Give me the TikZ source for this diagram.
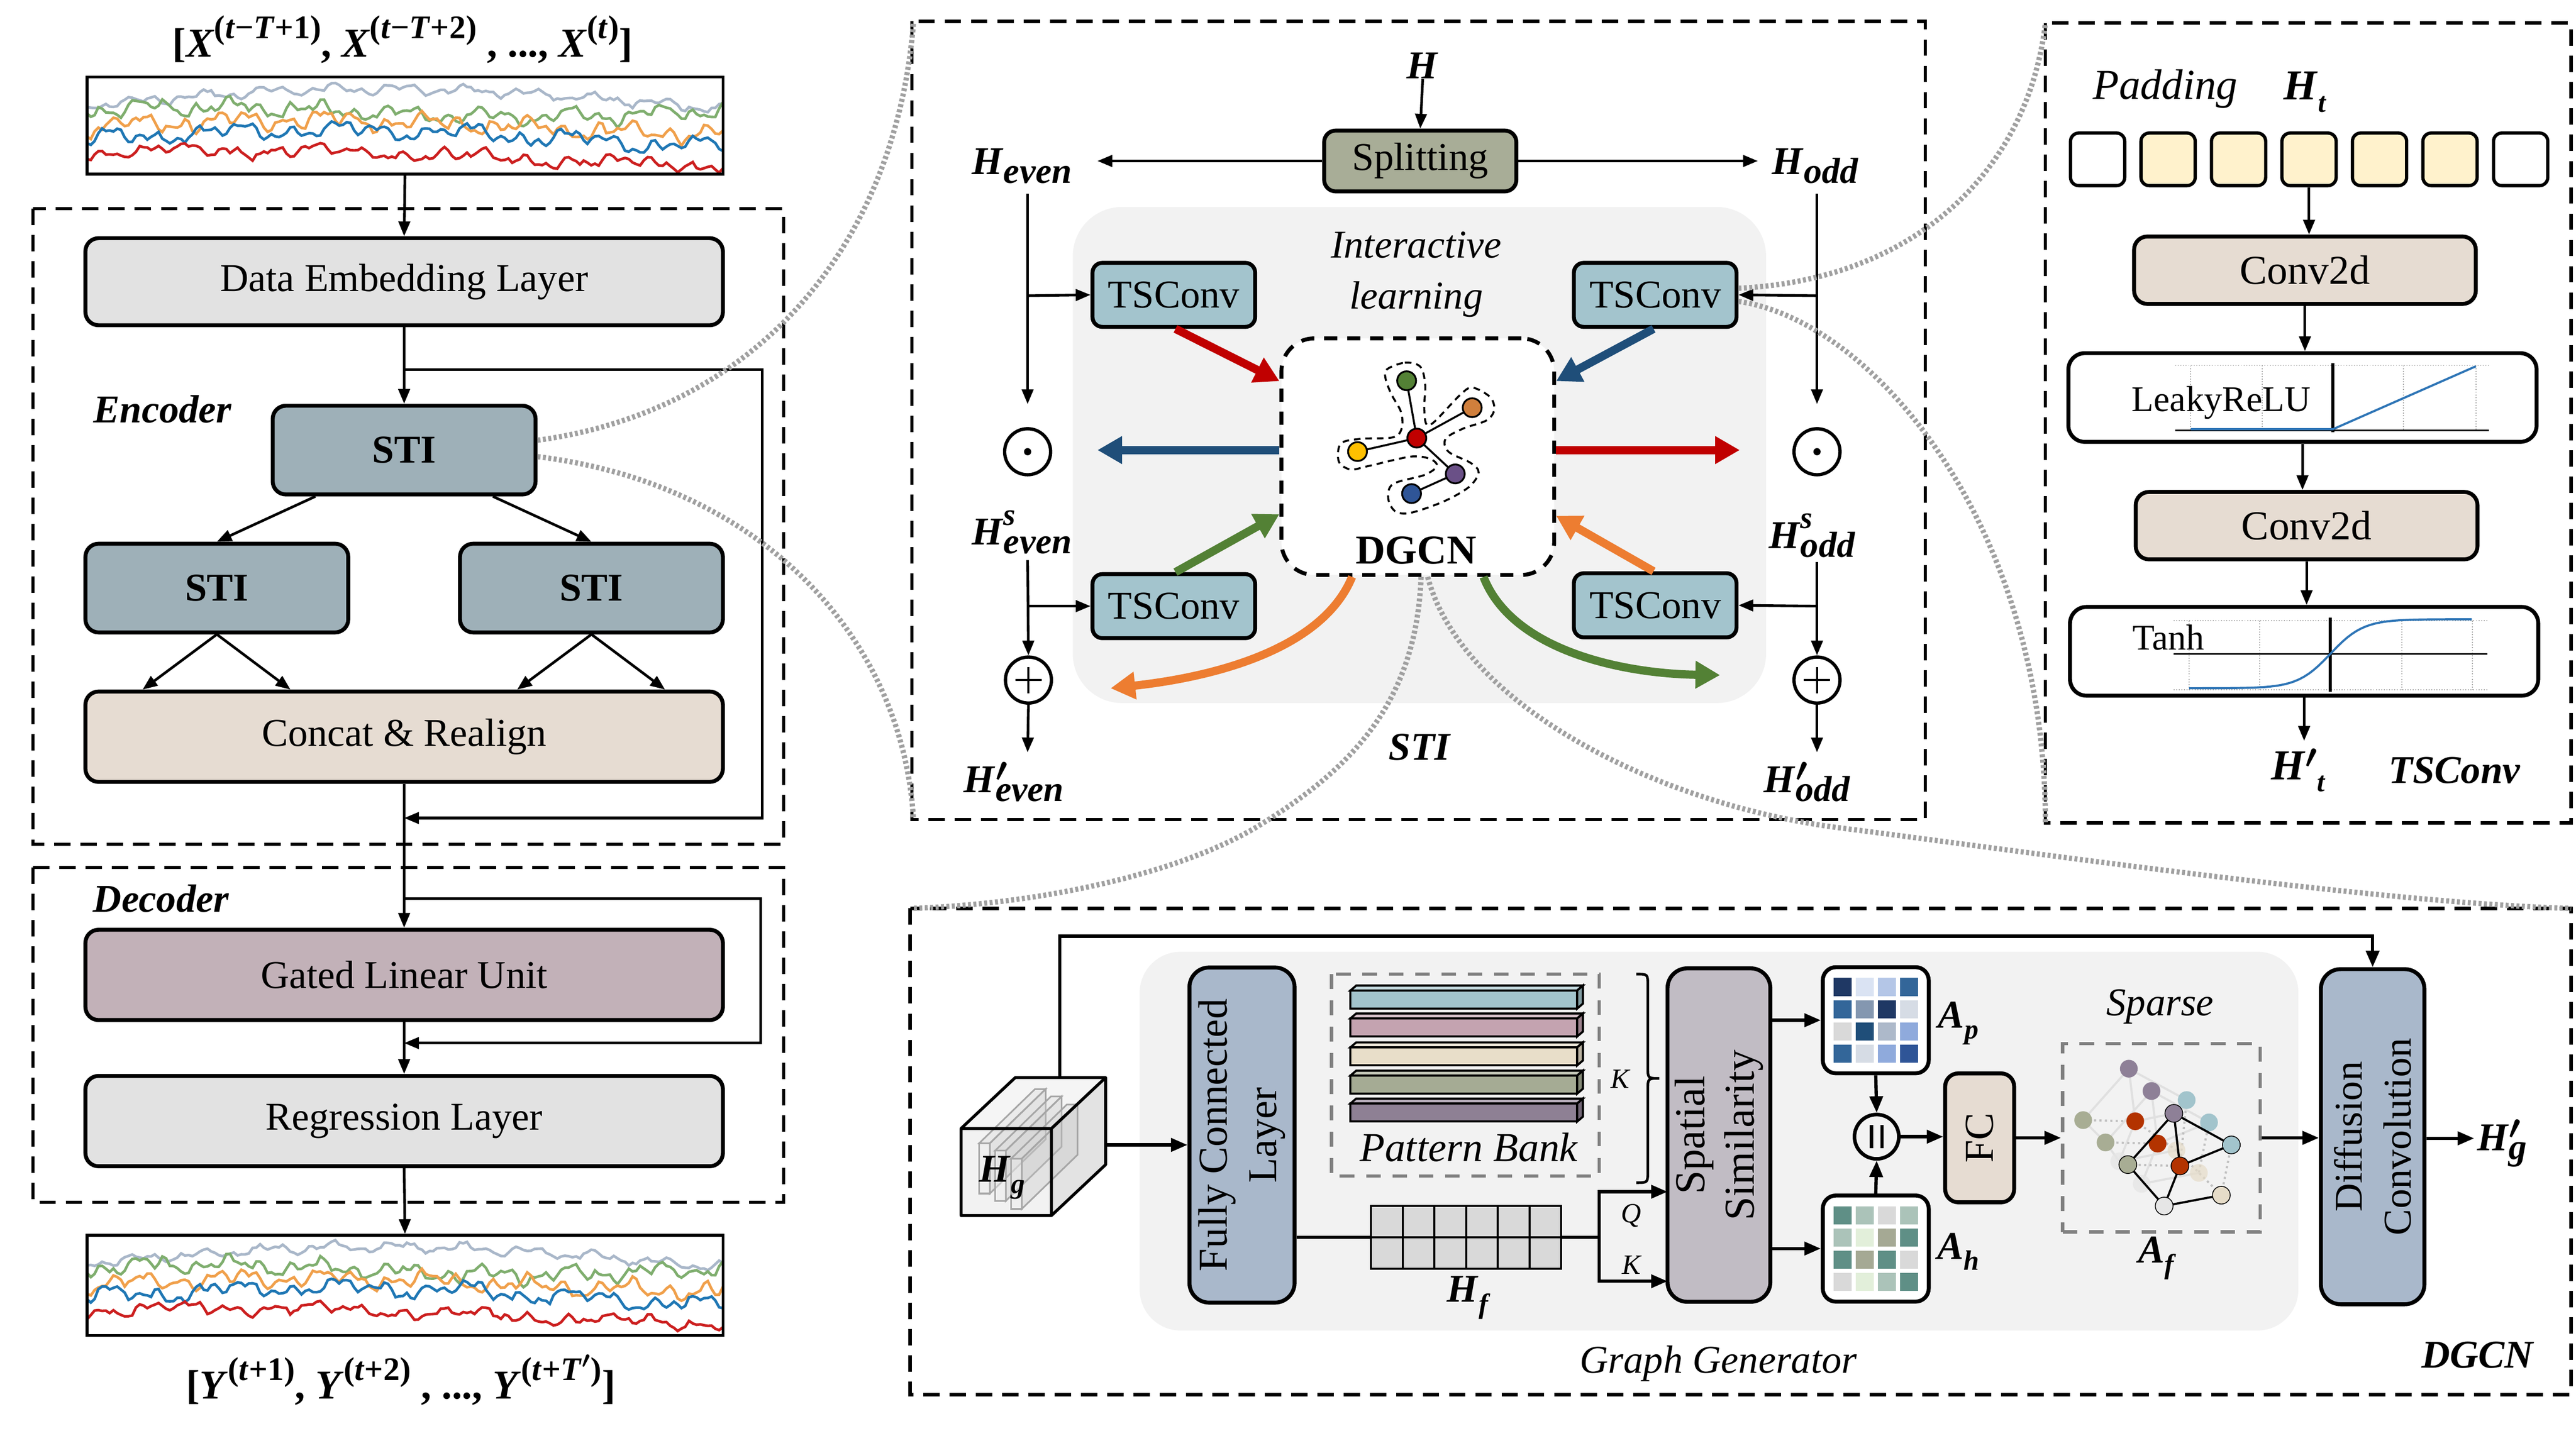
\documentclass[tikz,border=0pt]{standalone}
\usepackage{amsmath}
\usepackage{fontspec}
\setmainfont{Liberation Serif}
\usetikzlibrary{arrows.meta}
\newcommand\fsz[1]{\fontsize{#1}{#1}\selectfont}
\newcommand\fszz[2]{\fontsize{#1}{#2}\selectfont}
\newcommand\BI[1]{\textbf{\textit{#1}}}
\newcommand\Sb[1]{\raisebox{-0.22em}{\fsz{22}#1}}
\newcommand\Ssb[1]{\raisebox{-0.28em}{\fsz{17}#1}}
\newcommand\Sp[1]{\raisebox{0.45em}{\fsz{20}#1}}
\newcommand\SpSb[2]{\rlap{\raisebox{0.5em}{\fsz{19}#1}}\raisebox{-0.22em}{\fsz{22}#2}}
\newcommand\Prm{\raisebox{0.28em}{\fsz{20}$\boldsymbol{\prime}$}}
\newcommand\PrSb[1]{\rlap{\raisebox{0.3em}{\fsz{20}$\boldsymbol{\prime}$}}\raisebox{-0.22em}{\fsz{22}#1}}
\definecolor{cLG}{HTML}{E2E2E2}
\definecolor{cSTI}{HTML}{9EB0B8}
\definecolor{cBE}{HTML}{E6DCD2}
\definecolor{cGLU}{HTML}{C2B1B8}
\definecolor{cSPL}{HTML}{A8AD97}
\definecolor{cTS}{HTML}{A3C4CD}
\definecolor{cGR}{HTML}{F2F2F2}
\definecolor{cFCL}{HTML}{A9B8CB}
\definecolor{cSS}{HTML}{C1BCC4}
\definecolor{cPAD}{HTML}{FFF2CC}
\definecolor{cRed}{HTML}{C00000}
\definecolor{cBlue}{HTML}{1F4E79}
\definecolor{cGreen}{HTML}{538135}
\definecolor{cOrange}{HTML}{ED7D31}
\definecolor{cCall}{HTML}{A0A0A0}
\definecolor{cDash}{HTML}{808080}
\definecolor{cPlot}{HTML}{2E75B6}
\definecolor{cHF}{HTML}{D9D9D9}
\definecolor{cTgray}{HTML}{A9B7C9}
\definecolor{cTgreen}{HTML}{7FAE6E}
\definecolor{cTorange}{HTML}{F0A04B}
\definecolor{cTblue}{HTML}{1F77B4}
\definecolor{cTred}{HTML}{CC1F1F}
\definecolor{cB1}{HTML}{A2C4CC}
\definecolor{cB2}{HTML}{C4A3B0}
\definecolor{cB3}{HTML}{E8DEC9}
\definecolor{cB4}{HTML}{A5AB94}
\definecolor{cB5}{HTML}{8E8094}
\definecolor{cSpu}{HTML}{8E8097}
\definecolor{cSte}{HTML}{A2C4CC}
\definecolor{cSol}{HTML}{A8AD94}
\definecolor{cSre}{HTML}{B33300}
\definecolor{cSbe}{HTML}{E6DCC8}
\definecolor{cSgr}{HTML}{E6E6E6}
\definecolor{gGreen}{HTML}{538135}
\definecolor{gOrange}{HTML}{D07F3C}
\definecolor{gRed}{HTML}{C00000}
\definecolor{gYellow}{HTML}{FFC000}
\definecolor{gPurple}{HTML}{6A5087}
\definecolor{gBlue}{HTML}{2F5597}
\newcommand\tsplot{%
 \draw[cTgray, line width=1.6pt] plot[domain=0:387, samples=170] (\x,{17-10*sin(\x*0.5)+2*sin(\x*9)+1.5*sin(\x*23+40)+rand});
 \draw[cTgreen, line width=1.6pt] plot[domain=0:387, samples=170] (\x,{21-3*sin(\x*0.9+30)+3*sin(\x*7+10)+2.5*sin(\x*19+70)+1.5*sin(\x*37)+1.2*rand});
 \draw[cTorange, line width=1.6pt] plot[domain=0:387, samples=170] (\x,{30+4*sin(\x*0.7+180)+3*sin(\x*6+100)+3*sin(\x*17+20)+2*sin(\x*33+60)+1.2*rand});
 \draw[cTblue, line width=1.6pt] plot[domain=0:387, samples=170] (\x,{38-6*sin(\x*0.6)+3*sin(\x*5+200)+2.5*sin(\x*13+90)+2*sin(\x*31+10)+1.2*rand});
 \draw[cTred, line width=1.6pt] plot[domain=0:387, samples=170] (\x,{46-2*sin(\x*0.8)+2*sin(\x*4+50)+2*sin(\x*14+120)+1.5*sin(\x*29+80)+1.2*rand+6*(\x/387)^2});
}
\newcommand\pbar[2]{%
 \filldraw[fill=#2, line width=1.3pt] (822,#1+3) rectangle (960,#1+14);
 \filldraw[fill=#2!65!white, line width=1.3pt] (822,#1+3) -- (825.5,#1) -- (963.5,#1) -- (960,#1+3) -- cycle;
 \filldraw[fill=#2!80!black, line width=1.3pt] (960,#1+3) -- (963.5,#1) -- (963.5,#1+11) -- (960,#1+14) -- cycle;
}
\newcommand\slab[2]{%
 \filldraw[draw=gray!70, fill=gray!30, fill opacity=0.35, line width=1pt] (#1,#2) -- (#1+34,#2-33) -- (#1+40.5,#2-33) -- (#1+6.5,#2) -- cycle;
 \filldraw[draw=gray!70, fill=gray!45, fill opacity=0.35, line width=1pt] (#1+6.5,#2) -- (#1+40.5,#2-33) -- (#1+40.5,#2-2.4) -- (#1+6.5,#2+30.6) -- cycle;
 \filldraw[draw=gray!70, fill=gray!15, fill opacity=0.45, line width=1pt] (#1,#2) rectangle (#1+6.5,#2+30.6);
}
\begin{document}
\begin{tikzpicture}[x=1pt,y=-1pt,
 blk/.style={draw, line width=2.4pt, rounded corners=8pt, inner sep=0pt, font=\fsz{24}, align=center},
 arr/.style={-{Triangle[length=9pt,width=7pt]}, line width=1.6pt},
 arrb/.style={-{Triangle[length=10pt,width=8pt]}, line width=2pt},
 carr/.style={-{Triangle[length=15pt,width=16pt]}, line width=5pt},
 panel/.style={line width=2pt, dash pattern=on 10pt off 6pt},
 callout/.style={draw=cCall, line width=3.2pt, dash pattern=on 1.8pt off 1.5pt},
 lbl/.style={inner sep=0pt, font=\fsz{24}},
 gdash/.style={draw=cDash, line width=2pt, dash pattern=on 9pt off 7pt},
 gn/.style={circle, draw, line width=1.1pt, minimum size=11.5pt, inner sep=0pt},
 sn/.style={circle, minimum size=10.8pt, inner sep=0pt},
 cellb/.style={draw, line width=2pt, rounded corners=5pt, minimum width=33, minimum height=32, inner sep=0pt},
 opc/.style={circle, draw, line width=2pt, minimum size=28pt, inner sep=0pt},
]
\useasboundingbox (0,0) rectangle (1568,871.1);
\fill[white] (0,0) rectangle (1568,871.1);
\pgfmathsetseed{7}

% ================= LEFT PANEL =================
\draw[panel] (20,127) rectangle (477,514);
\draw[panel] (20,528) rectangle (477,732);
\begin{scope}[shift={(53,47)}]\clip (0,0) rectangle (387,59);\tsplot\end{scope}
\node[draw, line width=1.6pt, minimum width=387, minimum height=59, inner sep=0pt] (ts1) at (246.5,76.5) {};
\node[lbl, font=\fsz{25}\bfseries] (xin) at (245,24) {[\textit{X}\Sp{(\textit{t}−\textit{T}+1)}, \textit{X}\Sp{(\textit{t}−\textit{T}+2)} , ..., \textit{X}\Sp{(\textit{t})}]};
\node[blk, fill=cLG, minimum width=388, minimum height=53] (del) at (246,171.5) {Data Embedding Layer};
\node[blk, fill=cSTI, minimum width=160, minimum height=54] (sti0) at (246,274) {\textbf{STI}};
\node[blk, fill=cSTI, minimum width=160, minimum height=54] (sti1) at (132,358) {\textbf{STI}};
\node[blk, fill=cSTI, minimum width=160, minimum height=54] (sti2) at (360,358) {\textbf{STI}};
\node[blk, fill=cBE, minimum width=388, minimum height=55] (cat) at (246,448.5) {Concat \& Realign};
\node[blk, fill=cGLU, minimum width=388, minimum height=55] (glu) at (246,593.5) {Gated Linear Unit};
\node[blk, fill=cLG, minimum width=388, minimum height=55] (reg) at (246,682.5) {Regression Layer};
\begin{scope}[shift={(53,752)}]\clip (0,0) rectangle (387,61);\tsplot\end{scope}
\node[draw, line width=1.6pt, minimum width=387, minimum height=61, inner sep=0pt] (ts2) at (246.5,782.5) {};
\node[lbl, font=\fsz{25}\bfseries] (yout) at (244,840) {[\textit{Y}\Sp{(\textit{t}+1)}, \textit{Y}\Sp{(\textit{t}+2)} , ..., \textit{Y}\Sp{(\textit{t}+\textit{T}$\boldsymbol{'}$)}]};
\node[lbl, font=\fsz{24}\bfseries\itshape] (enc) at (99,249) {Encoder};
\node[lbl, font=\fsz{24}\bfseries\itshape] (dec) at (98,547) {Decoder};
\draw[arr] (ts1.south) -- (del.north);
\draw[arr] (del.south) -- (sti0.north);
\coordinate (j1) at (246,225); \coordinate (j2) at (246,498);
\draw[arr] (j1) -- (464,225) -- (464,498) -- (j2);
\draw[arr] ([xshift=-54]sti0.south) -- (sti1.north);
\draw[arr] ([xshift=54]sti0.south) -- (sti2.north);
\draw[arr] (sti1.south) -- ([xshift=36]cat.north west);
\draw[arr] (sti1.south) -- ([xshift=126]cat.north west);
\draw[arr] (sti2.south) -- ([xshift=264]cat.north west);
\draw[arr] (sti2.south) -- ([xshift=354]cat.north west);
\draw[arr] (cat.south) -- (glu.north);
\coordinate (j3) at (246,547); \coordinate (j4) at (246,635);
\draw[arr] (j3) -- (463,547) -- (463,635) -- (j4);
\draw[arr] (glu.south) -- (reg.north);
\draw[arr] (reg.south) -- (ts2.north);

% ================= STI PANEL =================
\draw[panel] (555,13) rectangle (1172,499);
\fill[cGR, rounded corners=30pt] (653,126) rectangle (1075,428);
\node[lbl] (hin) at (866,40) {\BI{H}};
\node[blk, fill=cSPL, rounded corners=7pt, minimum width=117, minimum height=37] (split) at (864.5,98) {Splitting};
\draw[arr] (hin.south) -- (split.north);
\node[lbl] (hev) at (622,101) {\BI{H}\Sb{\BI{even}}};
\node[lbl] (hod) at (1105,101) {\BI{H}\Sb{\BI{odd}}};
\coordinate (hevA) at (668,98); \coordinate (hodA) at (1070,98);
\draw[arr] (split.west) -- (hevA);
\draw[arr] (split.east) -- (hodA);
\node[lbl, font=\fszz{24}{31}\itshape, align=center] (ilab) at (862,167) {Interactive\\learning};
\node[draw, line width=2.4pt, dash pattern=on 8pt off 6pt, fill=white, rounded corners=20pt, minimum width=166, minimum height=144, inner sep=0pt] (dg) at (863,278) {};
\node[lbl, font=\fsz{25}\bfseries] (dgl) at (862,335) {DGCN};
% graph icon
\draw[line width=1.2pt, dash pattern=on 4pt off 3pt] plot[smooth cycle, tension=0.55] coordinates {(844.4,224.7) (855.1,220.8) (864.5,223.2) (867.5,234) (866.9,247.7) (868.1,258) (872.8,257) (889.4,239.8) (896.5,236) (907.1,241.8) (909.5,249.6) (904.7,256) (890.6,260.9) (879.9,267.2) (881.7,275) (895.3,281.9) (900,287.7) (894.1,296.5) (878.7,305.3) (858.6,312.2) (849.2,311.2) (845,303.4) (848,294.6) (866.9,289.2) (874.6,283.8) (870.5,279.4) (858.6,278) (832.6,283.8) (822,285.8) (814.9,280.9) (816.1,270.1) (827.9,267.2) (848,266.2) (853.3,260.4) (852.7,250.6) (846.8,239.8) (843.3,230.1)};
\coordinate (g1) at (856.2,231.8); \coordinate (g2) at (896.1,248.2); \coordinate (g3) at (862.4,266.7);
\coordinate (g4) at (826.3,274.9); \coordinate (g5) at (885.8,288.5); \coordinate (g6) at (859.2,300.5);
\draw[line width=1.2pt] (g3) -- (g1) (g3) -- (g2) (g3) -- (g4) (g3) -- (g5) (g5) -- (g6);
\node[gn, fill=gGreen] (n1) at (g1) {};
\node[gn, fill=gOrange] (n2) at (g2) {};
\node[gn, fill=gRed] (n3) at (g3) {};
\node[gn, fill=gYellow] (n4) at (g4) {};
\node[gn, fill=gPurple] (n5) at (g5) {};
\node[gn, fill=gBlue] (n6) at (g6) {};
% TSConv nodes
\node[blk, fill=cTS, rounded corners=6pt, minimum width=99, minimum height=39] (tsTL) at (714.5,179.5) {TSConv};
\node[blk, fill=cTS, rounded corners=6pt, minimum width=99, minimum height=39] (tsTR) at (1007.5,179.5) {TSConv};
\node[blk, fill=cTS, rounded corners=6pt, minimum width=99, minimum height=39] (tsBL) at (714.5,369) {TSConv};
\node[blk, fill=cTS, rounded corners=6pt, minimum width=99, minimum height=39] (tsBR) at (1007.5,368.5) {TSConv};
% colored arrows
\draw[carr, cRed] ([xshift=1]tsTL.south) -- ([yshift=46]dg.west);
\draw[carr, cBlue] ([xshift=-1]tsTR.south) -- ([yshift=46]dg.east);
\coordinate (blT) at (668,274); \coordinate (rrT) at (1059,274);
\draw[carr, cBlue] ([yshift=4]dg.west) -- (blT);
\draw[carr, cRed] ([yshift=4]dg.east) -- (rrT);
\draw[carr, cGreen] ([xshift=1]tsBL.north) -- ([yshift=-35]dg.west);
\draw[carr, cOrange] ([xshift=-1]tsBR.north) -- ([yshift=-36]dg.east);
\coordinate (ocT) at (676,419); \coordinate (gcT) at (1047,411);
\draw[carr, cOrange] ([xshift=-40]dg.south) .. controls (805,395) and (740,412) .. (ocT);
\draw[carr, cGreen] ([xshift=40]dg.south) .. controls (920,395) and (985,410) .. (gcT);
% side paths
\node[opc] (odL) at (625.5,275) {}; \fill (odL.center) circle (2.2pt);
\node[opc] (odR) at (1106,275) {}; \fill (odR.center) circle (2.2pt);
\node[opc] (opL) at (626,414) {}; \draw[line width=1.1pt] ([xshift=-8]opL.center) -- ([xshift=8]opL.center) ([yshift=-8]opL.center) -- ([yshift=8]opL.center);
\node[opc] (opR) at (1106,414) {}; \draw[line width=1.1pt] ([xshift=-8]opR.center) -- ([xshift=8]opR.center) ([yshift=-8]opR.center) -- ([yshift=8]opR.center);
\coordinate (vL0) at (625.5,118); \coordinate (vL1) at (625.5,180); \coordinate (vL2) at (625.5,341);
\coordinate (vL3) at (625.5,369); \coordinate (vL4) at (625.5,458);
\draw[arr] (vL0) -- ([yshift=14]odL.north);
\draw[arr] (vL1) -- (tsTL.west);
\draw[arr] (vL2) -- (opL.north);
\draw[arr] (vL3) -- (tsBL.west);
\draw[arr] (opL.south) -- (vL4);
\coordinate (vR0) at (1106,118); \coordinate (vR1) at (1106,180); \coordinate (vR2) at (1106,342);
\coordinate (vR3) at (1106,369); \coordinate (vR4) at (1106,458);
\draw[arr] (vR0) -- ([yshift=14]odR.north);
\draw[arr] (vR1) -- (tsTR.east);
\draw[arr] (vR2) -- (opR.north);
\draw[arr] (vR3) -- (tsBR.east);
\draw[arr] (opR.south) -- (vR4);
\node[lbl] (hsev) at (622,324) {\BI{H}\SpSb{\BI{s}}{\BI{even}}};
\node[lbl] (hsod) at (1103,326) {\BI{H}\SpSb{\BI{s}}{\BI{odd}}};
\node[lbl] (hpev) at (617,476) {\BI{H}\PrSb{\BI{even}}};
\node[lbl] (hpod) at (1100,476) {\BI{H}\PrSb{\BI{odd}}};
\node[lbl, font=\fsz{24}\bfseries\itshape] (stil) at (864,455) {STI};

% ================= TSCONV PANEL =================
\draw[panel] (1245,14) rectangle (1565,501);
\node[lbl, font=\fsz{26}\itshape] (padl) at (1318,54) {Padding};
\node[lbl, font=\fsz{26}] (htl) at (1403,56) {\BI{H}\Ssb{\BI{t}}};
\node[cellb, fill=white] (c1) at (1276.8,97) {};
\node[cellb, fill=cPAD] (c2) at (1319.7,97) {};
\node[cellb, fill=cPAD] (c3) at (1362.6,97) {};
\node[cellb, fill=cPAD] (c4) at (1405.5,97) {};
\node[cellb, fill=cPAD] (c5) at (1448.4,97) {};
\node[cellb, fill=cPAD] (c6) at (1491.3,97) {};
\node[cellb, fill=white] (c7) at (1534.3,97) {};
\node[blk, fill=cBE, minimum width=208, minimum height=41, font=\fsz{25}] (cv1) at (1403,164.5) {Conv2d};
\node[blk, fill=white, rounded corners=10pt, minimum width=285, minimum height=54] (lk) at (1401.5,242) {};
\node[blk, fill=cBE, minimum width=208, minimum height=41, font=\fsz{25}] (cv2) at (1404,320) {Conv2d};
\node[blk, fill=white, rounded corners=10pt, minimum width=285, minimum height=54] (th) at (1402.5,396.5) {};
\draw[arr] (c4.south) -- (c4.south |- cv1.north);
\draw[arr] (cv1.south) -- (cv1.south |- lk.north);
\draw[arr] (lk.south) -- (lk.south |- cv2.north);
\draw[arr] (cv2.south) -- (cv2.south |- th.north);
\coordinate (htout) at (1402.5,451);
\draw[arr] (th.south) -- (htout);
% leaky plot
\foreach \gx in {1333.5,1377,1463,1507} \draw[gray!70, densely dotted, line width=0.6pt] (\gx,222.5) -- (\gx,262);
\draw[gray!70, densely dotted, line width=0.6pt] (1324,222.5) -- (1515,222.5);
\draw[line width=1pt] (1324,262) -- (1515,262);
\draw[line width=1.8pt] (1420,221) -- (1420,263);
\draw[cPlot, line width=1.3pt] (1333.5,261.3) -- (1420,261.3) -- (1507,223);
\node[lbl, font=\fsz{22}] (lkl) at (1352,245) {LeakyReLU};
% tanh plot
\foreach \gx in {1332.5,1375.5,1462,1505} \draw[gray!70, densely dotted, line width=0.6pt] (\gx,378) -- (\gx,420);
\draw[gray!70, densely dotted, line width=0.6pt] (1323,378) -- (1514,378) (1323,420) -- (1514,420);
\draw[line width=1pt] (1323,398) -- (1514,398);
\draw[line width=1.8pt] (1418.5,376) -- (1418.5,421);
\draw[cPlot, line width=1.3pt] plot[domain=-86:86, samples=60] ({1418.5+\x},{398-21*tanh(\x/20)});
\node[lbl, font=\fsz{22}] (thl) at (1320,388) {Tanh};
\node[lbl, font=\fsz{26}] (htp) at (1399,469) {\BI{H}\Prm\Ssb{\BI{t}}};
\node[lbl, font=\fsz{24}\bfseries\itshape] (tscl) at (1494,469) {TSConv};

% ================= DGCN PANEL =================
\draw[panel] (554,553) rectangle (1565,849);
\fill[cGR, rounded corners=25pt] (693.7,579.4) rectangle (1399,810);
% cube
\fill[fill=black!4] (585,687) -- (618,656) -- (673,656) -- (640,687) -- cycle;
\fill[fill=black!11] (640,687) -- (673,656) -- (673,709) -- (640,740) -- cycle;
\fill[fill=black!5] (585,687) rectangle (640,740);
\slab{596}{696}
\slab{605.7}{700.5}
\slab{615.4}{705.4}
\draw[line width=1.8pt, line join=round] (585,687) rectangle (640,740) (585,687) -- (618,656) -- (673,656) -- (640,687) (673,656) -- (673,709) -- (640,740);
\node[lbl] (hgl) at (610,717) {\BI{H}\Ssb{\BI{g}}};
% boxes
\node[blk, fill=cFCL, rounded corners=12pt, minimum width=64, minimum height=204] (fcl) at (756,691) {};
\node[rotate=90, font=\fszz{25}{30}, align=center, inner sep=0pt] (fclt) at (fcl.center) {Fully Connected\\Layer};
\coordinate (cubeR) at (674,697); \coordinate (cubeT) at (645,656);
\draw[arrb] (cubeR) -- (cubeR -| fcl.west);
\draw[gdash] (810.5,593) rectangle (973.4,716);
\pbar{600}{cB1}
\pbar{617}{cB2}
\pbar{634.6}{cB3}
\pbar{651.8}{cB4}
\pbar{668.8}{cB5}
\node[lbl, font=\fsz{25}\itshape] (pbl) at (894,698.5) {Pattern Bank};
\draw[line width=1.6pt] (996,593) .. controls (1003,593) .. (1003,600) -- (1003,649.5) .. controls (1003,656.5) .. (1010,656.5) .. controls (1003,656.5) .. (1003,663.5) -- (1003,713) .. controls (1003,720) .. (996,720);
\node[lbl, font=\fsz{17}\itshape] (kb) at (986,657) {K};
\node[draw, line width=1.2pt, fill=cHF, minimum width=115.8, minimum height=38.5, inner sep=0pt] (hf) at (892.4,753.25) {};
\foreach \k in {1,...,5} \draw[line width=1.2pt] ({834.5+19.3*\k},734) -- ({834.5+19.3*\k},772.5);
\draw[line width=1.2pt] (hf.west) -- (hf.east);
\node[lbl] (hfl) at (894,790) {\BI{H}\Ssb{\BI{f}}};
\node[blk, fill=cSS, rounded corners=12pt, minimum width=62.6, minimum height=203] (ss) at (1046.3,691) {};
\node[rotate=90, font=\fszz{26}{30}, align=center, inner sep=0pt] (sst) at (ss.center) {Spatial\\Similarity};
\draw[line width=2pt] (fcl.east |- hf.west) -- (hf.west);
\coordinate (qk) at (973.4,753.25); \coordinate (qin) at (1015,725.5); \coordinate (kin) at (1015,780);
\draw[line width=2pt] (hf.east) -- (qk);
\draw[arrb] (qk) |- (qin);
\draw[arrb] (qk) |- (kin);
\node[lbl, font=\fsz{17}\itshape] (ql) at (993,740) {Q};
\node[lbl, font=\fsz{17}\itshape] (kl) at (993,770) {K};
% matrices
\node[blk, fill=white, minimum width=64.5, minimum height=64.6] (ap) at (1141.75,621.1) {};
\node[blk, fill=white, minimum width=64.5, minimum height=64.6] (ah) at (1141.75,760.1) {};
\foreach \c [count=\i from 0] in {1F3864,DAE3F3,B4C6E7,336699,336699,8497B0,1F3864,D6DCE5,D9D9D9,1F4E79,ADB9CA,8FAADC,336699,D6DCE5,8FAADC,2F5597}{
 \pgfmathtruncatemacro\ry{int(\i/4)}\pgfmathtruncatemacro\cx{mod(\i,4)}
 \definecolor{tmpc}{HTML}{\c}
 \fill[tmpc] ({1141.75-25.75+13.5*\cx},{621.1-25.75+13.5*\ry}) rectangle ++(11,11);
}
\foreach \c [count=\i from 0] in {5F8F86,ABC3B9,D9D9D9,ABC3B9,ABC3B9,E2EFDA,A5A994,5F8F86,5F8F86,A5A994,5F8F86,D9D9D9,D9D9D9,E2EFDA,ABC3B9,5F8F86}{
 \pgfmathtruncatemacro\ry{int(\i/4)}\pgfmathtruncatemacro\cx{mod(\i,4)}
 \definecolor{tmpc}{HTML}{\c}
 \fill[tmpc] ({1141.75-25.75+13.5*\cx},{760.1-25.75+13.5*\ry}) rectangle ++(11,11);
}
\draw[arrb] (ss.east |- ap.west) -- (ap.west);
\draw[arrb] (ss.east |- ah.west) -- (ah.west);
\node[lbl] (apl) at (1192,623) {\BI{A}\Ssb{\BI{p}}};
\node[lbl] (ahl) at (1192,762) {\BI{A}\Ssb{\BI{h}}};
\node[opc, line width=2.2pt, minimum size=27pt] (cc) at (1142.3,692) {};
\draw[line width=2pt] ([xshift=-3.2]cc.center) ++(0,-7) -- ++(0,14);
\draw[line width=2pt] ([xshift=3.2]cc.center) ++(0,-7) -- ++(0,14);
\draw[arrb] (ap.south) -- (cc.north);
\draw[arrb] (ah.north) -- (cc.south);
\node[blk, fill=cBE, minimum width=42, minimum height=78.5] (fc) at (1205,692.7) {};
\node[rotate=90, font=\fsz{25}, inner sep=0pt] (fct) at (fc.center) {FC};
\draw[arrb] (cc.east) -- (cc.east -| fc.west);
% sparse graph
\node[gdash, minimum width=120.3, minimum height=114.6, inner sep=0pt] (sp) at (1315.65,692.7) {};
\node[lbl, font=\fsz{24}\itshape] (spl) at (1314.8,612.8) {Sparse};
\node[lbl] (afl) at (1313,766) {\BI{A}\Ssb{\BI{f}}};
\draw[arrb] (fc.east) -- (sp.west);
\coordinate (p1) at (1295.8,650.6); \coordinate (p2) at (1309.6,664.2); \coordinate (p3) at (1331,669.7);
\coordinate (p4) at (1344.6,683.3); \coordinate (p5) at (1268,681.9); \coordinate (p6) at (1281.6,695.5);
\coordinate (p7) at (1299.7,682.6); \coordinate (p8) at (1313.3,696.2); \coordinate (p9) at (1324.8,700.3);
\coordinate (p10) at (1338.4,714); \coordinate (p11) at (1290,707); \coordinate (p12) at (1303.6,720.7);
\coordinate (p13) at (1323.2,677.8); \coordinate (p14) at (1358.2,697); \coordinate (p15) at (1295.2,709);
\coordinate (p16) at (1326.9,709.8); \coordinate (p17) at (1317.3,734.2); \coordinate (p18) at (1352.1,727.6);
\draw[black!12, line width=1.3pt] (p1) -- (p5) (p1) -- (p7) (p1) -- (p3) (p2) -- (p6) (p2) -- (p8) (p2) -- (p4) (p7) -- (p13) (p7) -- (p11) (p8) -- (p12) (p8) -- (p4) (p11) -- (p9) (p12) -- (p10) (p5) -- (p6) (p6) -- (p11);
\draw[black!25, line width=1.3pt, dotted] (p5) -- (p7) (p6) -- (p8) (p15) -- (p16) (p7) -- (p9) (p9) -- (p18) (p3) -- (p16) (p4) -- (p10) (p14) -- (p18);
\node[sn, fill=cSpu] (s1) at (p1) {};
\node[sn, fill=cSpu] (s2) at (p2) {};
\node[sn, fill=cSte] (s3) at (p3) {};
\node[sn, fill=cSte] (s4) at (p4) {};
\node[sn, fill=cSol] (s5) at (p5) {};
\node[sn, fill=cSol] (s6) at (p6) {};
\node[sn, fill=cSre] (s7) at (p7) {};
\node[sn, fill=cSre] (s8) at (p8) {};
\node[sn, fill=cSbe, opacity=0.7] (s9) at (p9) {};
\node[sn, fill=cSbe, opacity=0.7] (s10) at (p10) {};
\node[sn, fill=cSgr, opacity=0.8] (s11) at (p11) {};
\node[sn, fill=cSgr, opacity=0.8] (s12) at (p12) {};
\draw[line width=1.3pt] (p13) -- (p15) (p13) -- (p16) (p13) -- (p14) (p14) -- (p16) (p15) -- (p17) (p16) -- (p17) (p17) -- (p18);
\node[sn, draw, line width=0.5pt, fill=cSpu] (s13) at (p13) {};
\node[sn, draw, line width=0.5pt, fill=cSte] (s14) at (p14) {};
\node[sn, draw, line width=0.5pt, fill=cSol] (s15) at (p15) {};
\node[sn, draw, line width=0.5pt, fill=cSre] (s16) at (p16) {};
\node[sn, draw, line width=0.5pt, fill=cSgr] (s17) at (p17) {};
\node[sn, draw, line width=0.5pt, fill=cSbe] (s18) at (p18) {};
% diffusion
\node[blk, fill=cFCL, rounded corners=12pt, minimum width=63, minimum height=204] (diff) at (1444.2,692) {};
\node[rotate=90, font=\fszz{24}{30}, align=center, inner sep=0pt] (difft) at (diff.center) {Diffusion\\Convolution};
\draw[arrb] (sp.east) -- (sp.east -| diff.west);
\coordinate (hgo) at (1506,693);
\draw[arrb] (diff.east |- hgo) -- (hgo);
\node[lbl] (hgpl) at (1523,696) {\BI{H}\PrSb{\BI{g}}};
\draw[arrb] (cubeT) -- (645,570) -- (1444.2,570) -- (diff.north);
\node[lbl, font=\fsz{24}\bfseries\itshape] (dgcl) at (1508,825) {DGCN};
\node[lbl, font=\fsz{24}\itshape] (ggl) at (1046,830) {Graph Generator};

% ================= CALLOUTS =================
\draw[callout] ([yshift=6]sti0.east) .. controls (460,250) and (545,150) .. (556,14);
\draw[callout] ([yshift=-4]sti0.east) .. controls (465,295) and (550,390) .. (556,499);
\draw[callout] ([yshift=4]tsTR.east) .. controls (1170,170) and (1235,100) .. (1245,14);
\draw[callout] ([yshift=-4]tsTR.east) .. controls (1140,195) and (1245,320) .. (1245,501);
\draw[callout] ([xshift=2]dg.south) .. controls (862,430) and (820,470) .. (764,504) .. controls (720,530) and (640,550) .. (555,553);
\draw[callout] ([xshift=6]dg.south) .. controls (890,430) and (1010,490) .. (1120,504) .. controls (1230,518) and (1450,550) .. (1565,553);
\end{tikzpicture}
\end{document}
